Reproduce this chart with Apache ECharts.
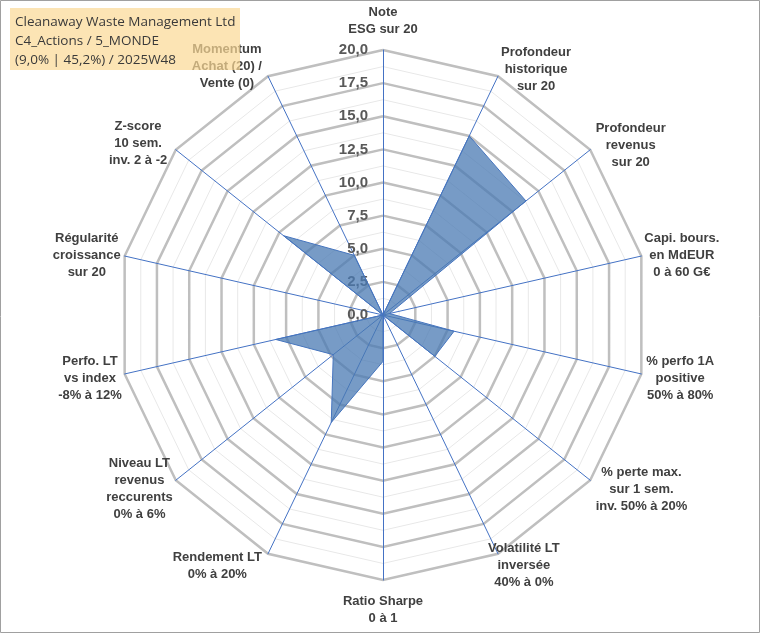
<!DOCTYPE html>
<html>
<head>
<meta charset="utf-8">
<script src="https://cdn.jsdelivr.net/npm/echarts@6/dist/echarts.min.js"></script>
<style>
  html, body { margin: 0; padding: 0; background: #fff; }
  #chart { width: 760px; height: 633px; }
</style>
</head>
<body>
<div id="chart"></div>
<script>
// Radar scorecard: 14 criteria, each scaled 0..20, listed clockwise from the top.
const AXIS_NAMES = [
  "Note\nESG sur 20",
  "Profondeur\nhistorique\nsur 20",
  "Profondeur\nrevenus\nsur 20",
  "Capi. bours.\nen MdEUR\n0 à 60 G€",
  "% perfo 1A\npositive\n50% à 80%",
  "% perte max.\nsur 1 sem.\ninv. 50% à 20%",
  "Volatilité LT\ninversée\n40% à 0%",
  "Ratio Sharpe\n0 à 1",
  "Rendement LT\n0% à 20%",
  "Niveau LT\nrevenus\nreccurents\n0% à 6%",
  "Perfo. LT\nvs index\n-8% à 12%",
  "Régularité\ncroissance\nsur 20",
  "Z-score\n10 sem.\ninv. 2 à -2",
  "Momentum\nAchat (20) /\nVente (0)",
]
const SCORES = [0, 15.0, 13.8, 0.5, 5.5, 5.0, 0, 3.5, 9.0, 4.8, 8.3, 0, 9.6, 5.0]

const AXIS_MIN = 0
const AXIS_MAX = 20
const MAJOR_SPLITS = 8   // 2,5 steps
const MINOR_SPLITS = 16

const TITLE_LINES = [
  "Cleanaway Waste Management Ltd",
  "C4_Actions / 5_MONDE",
  "(9,0% | 45,2%) / 2025W48",
]

// label placement, clockwise order: gap past the outer ring, then a small nudge
const NAME_GAPS = [12, 7, 7, 3, 5, 7, 0, 13, 14, 4, 3, 4, 11, 14]
const NAME_NUDGE_X = [0, 0, 0, 0, 0, 0, -10, 0, 0, 0, 0, 0, 0, 0]
const NAME_NUDGE_Y = [0, -1, 0, 0, 3, 5, 12, 0, 0, 6, 4, 0, 1, 3]

const CENTER = [383, 315]
const RADIUS = 265
const INK = "#404040"
const GRID_BLUE = "#4472c4"
const ARIAL = "'Liberation Sans', Arial, sans-serif"

// ECharts lays radar indicators out counter-clockwise, so feed them reversed
const order = [0].concat(AXIS_NAMES.map((_, i) => AXIS_NAMES.length - 1 - i).slice(0, -1))
const half = AXIS_NAMES.length / 2

// padding that shifts a middle-aligned name block by (dx, dy)
function nudge(k) {
  const dx = NAME_NUDGE_X[k], dy = NAME_NUDGE_Y[k]
  const top = Math.max(0, 2 * dy), bottom = Math.max(0, -2 * dy)
  if (k > 0 && k < half) return [top, 0, bottom, dx]        // left-aligned, right side
  if (k > half) return [top, -dx, bottom, 0]               // right-aligned, left side
  return [0, 0, 0, 0]
}

const fmtTick = v => v.toFixed(1).replace(".", ",")

const chart = echarts.init(document.getElementById("chart"), null, {renderer: "canvas"})

chart.setOption({
  animation: false,
  radar: [
    {
      // thin minor rings
      center: CENTER,
      radius: RADIUS,
      startAngle: 90,
      shape: "polygon",
      splitNumber: MINOR_SPLITS,
      indicator: order.map(() => ({min: AXIS_MIN, max: AXIS_MAX})),
      axisName: {show: false},
      axisLine: {show: false},
      axisTick: {show: false},
      axisLabel: {show: false},
      splitArea: {show: false},
      splitLine: {lineStyle: {color: "#e8e8e8", width: 1}},
    },
    {
      center: CENTER,
      radius: RADIUS,
      startAngle: 90,
      shape: "polygon",
      splitNumber: MAJOR_SPLITS,
      indicator: order.map((k, j) => ({
        name: AXIS_NAMES[k],
        min: AXIS_MIN,
        max: AXIS_MAX,
        nameGap: NAME_GAPS[k],
        nameTextStyle: {padding: nudge(k)},
        axisLabel: {show: j === 0},
      })),
      axisName: {
        formatter: name => "{n|" + name + "}",
        rich: {
          n: {
            align: "center",
            color: INK,
            fontFamily: ARIAL,
            fontWeight: "bold",
            fontSize: 13,
            lineHeight: 17,
          },
        },
      },
      axisLine: {lineStyle: {color: GRID_BLUE, width: 1}},
      axisTick: {show: false},
      axisLabel: {
        show: true,
        margin: 15,
        formatter: fmtTick,
        color: "#595959",
        fontFamily: ARIAL,
        fontWeight: "bold",
        fontSize: 15,
      },
      splitArea: {show: false},
      splitLine: {lineStyle: {color: "#bfbfbf", width: 2.5}},
    },
  ],
  series: [{
    type: "radar",
    radarIndex: 1,
    symbol: "none",
    silent: true,
    lineStyle: {color: GRID_BLUE, width: 1},
    areaStyle: {color: "#4a7ab3", opacity: 0.75},
    data: [{value: order.map(k => SCORES[k])}],
  }],
  graphic: [
    {
      type: "rect", silent: true, z: 0,
      shape: {x: 0.5, y: 0.5, width: 759, height: 632},
      style: {fill: "none", stroke: "#a0a0a0", lineWidth: 1},
    },
    {
      // translucent title box, drawn over the chart like the original
      type: "rect", silent: true, z: 100,
      shape: {x: 10, y: 8, width: 230, height: 62},
      style: {fill: "rgba(251, 216, 148, 0.7)"},
    },
    {
      type: "text", silent: true, z: 101,
      x: 15, y: 13,
      style: {
        text: TITLE_LINES.join("\n"),
        fill: "#3a3a3a",
        font: "13.5px 'Open Sans', Lato, sans-serif",
        lineHeight: 19,
      },
    },
  ],
})
</script>
</body>
</html>
